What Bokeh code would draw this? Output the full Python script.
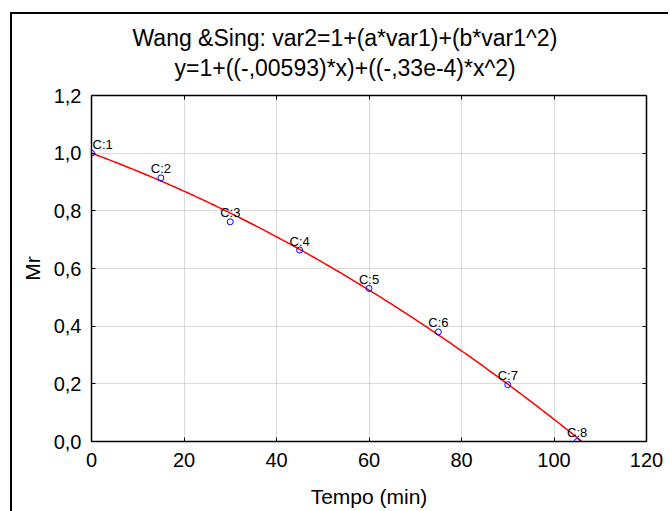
from bokeh.plotting import figure
from bokeh.models import (Range1d, Title, LinearAxis, FixedTicker, Label)
from bokeh.embed import file_html
from bokeh.resources import INLINE
import numpy as np

# ---- data ----
tempo = [0, 15, 30, 45, 60, 75, 90, 105]
mr = [1.0, 0.914, 0.762, 0.664, 0.531, 0.38, 0.197, 0.0]
case_labels = ["C:1", "C:2", "C:3", "C:4", "C:5", "C:6", "C:7", "C:8"]
coef_a = -0.00593
coef_b = -0.33e-4
fit_x_max = 106.0

x_ticks = [0, 20, 40, 60, 80, 100, 120]
x_tick_labels = ["0", "20", "40", "60", "80", "100", "120"]
y_ticks = [0.0, 0.2, 0.4, 0.6, 0.8, 1.0, 1.2]
y_tick_labels = ["0,0", "0,2", "0,4", "0,6", "0,8", "1,0", "1,2"]

title_line1 = "Wang &Sing: var2=1+(a*var1)+(b*var1^2)"
title_line2 = "y=1+((-,00593)*x)+((-,33e-4)*x^2)"
x_label = "Tempo (min)"
y_label = "Mr"

FONT = "Liberation Sans"
W, H = 668, 518

fit_x = np.linspace(0, fit_x_max, 200)
fit_y = 1 + coef_a * fit_x + coef_b * fit_x ** 2

p = figure(width=W, height=H, x_range=Range1d(0, 120), y_range=Range1d(0, 1.2),
           output_backend="svg", toolbar_location=None, title=None,
           min_border_left=91, min_border_right=22, min_border_top=95, min_border_bottom=77,
           background_fill_color="white", border_fill_color=None)
p.outline_line_color = None
# outer chart border drawn as element background (left and top edges)
p.styles = {"background": "linear-gradient(#000, #000) 10px 12px / 2px 100% no-repeat, "
                          "linear-gradient(#000, #000) 10px 12px / 100% 2px no-repeat, #fff",
            "margin-bottom": "-30px", "margin-right": "-20px"}

bottom_ax = p.below[0]
left_ax = p.left[0]

xt = FixedTicker(ticks=x_ticks)
yt = FixedTicker(ticks=y_ticks)

top_ax = LinearAxis(ticker=xt, axis_label=None)
right_ax = LinearAxis(ticker=yt, axis_label=None)
p.add_layout(top_ax, "above")
p.add_layout(right_ax, "right")

t2 = Title(text=title_line2, align="left", offset=83, text_font=FONT, text_font_size="23px",
           text_font_style="normal", text_color="black", standoff=30)
t1 = Title(text=title_line1, align="left", offset=41, text_font=FONT, text_font_size="23px",
           text_font_style="normal", text_color="black", standoff=-26)
p.add_layout(t2, "above")
p.add_layout(t1, "above")

bottom_ax.ticker = xt
bottom_ax.major_label_overrides = dict(zip(x_ticks, x_tick_labels))
bottom_ax.axis_label = x_label
bottom_ax.major_label_standoff = 11
bottom_ax.axis_label_standoff = 15

left_ax.ticker = yt
left_ax.major_label_overrides = dict(zip(y_ticks, y_tick_labels))
left_ax.axis_label = y_label
left_ax.major_label_standoff = 10
left_ax.axis_label_standoff = 7

for ax in [bottom_ax, left_ax]:
    ax.major_label_text_font = FONT
    ax.axis_label_text_font = FONT
    ax.axis_label_text_font_style = "normal"
    ax.major_label_text_color = "black"
    ax.axis_label_text_color = "black"
    ax.major_label_text_font_size = "20px"
    ax.axis_label_text_font_size = "21px"
for ax in [top_ax, right_ax]:
    ax.major_label_text_font_size = "1px"
    ax.major_label_text_color = None
    ax.major_label_standoff = 0
for ax in [bottom_ax, left_ax, top_ax, right_ax]:
    ax.axis_line_color = "black"
    ax.axis_line_width = 1.5
    ax.major_tick_in = 4
    ax.major_tick_out = 0
    ax.major_tick_line_color = "black"
    ax.minor_tick_line_color = None

p.xgrid.ticker = xt
p.ygrid.ticker = yt
for g in [p.xgrid, p.ygrid]:
    g.grid_line_color = "#b4b4b4"
    g.grid_line_dash = "1 1"
    g.grid_line_width = 1

p.line(fit_x, fit_y, line_color="red", line_width=1.5)
p.scatter(tempo, mr, marker="circle", size=6, fill_color=None,
          line_color="blue", line_width=1)

for xv, yv, lab in zip(tempo, mr, case_labels):
    at_left_edge = xv <= x_ticks[0]
    p.add_layout(Label(x=xv, y=yv, text=lab, x_offset=1 if at_left_edge else 0, y_offset=9,
                       text_align="left" if at_left_edge else "center",
                       text_baseline="alphabetic", text_font=FONT,
                       text_font_size="13px", text_color="black"))

open("out.html", "w").write(file_html(p, INLINE))
